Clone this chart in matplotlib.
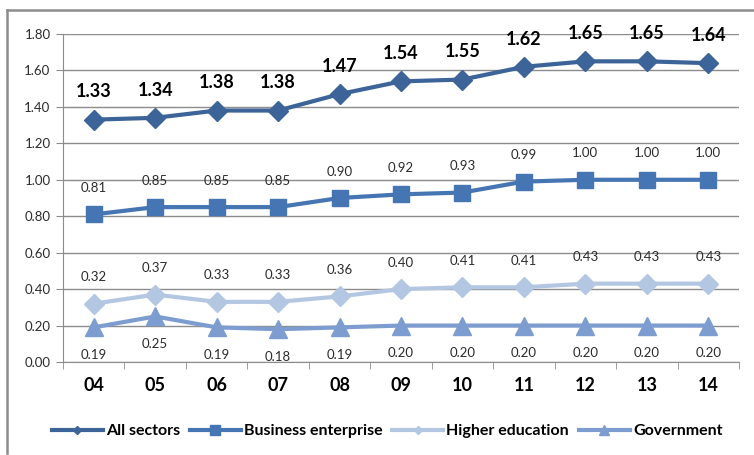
import matplotlib
matplotlib.use("Agg")
import matplotlib.pyplot as plt
from matplotlib.lines import Line2D

plt.rcParams['font.family'] = ['Lato', 'DejaVu Sans']

years = ["04", "05", "06", "07", "08", "09", "10", "11", "12", "13", "14"]
all_sectors = [1.33, 1.34, 1.38, 1.38, 1.47, 1.54, 1.55, 1.62, 1.65, 1.65, 1.64]
business = [0.81, 0.85, 0.85, 0.85, 0.90, 0.92, 0.93, 0.99, 1.00, 1.00, 1.00]
higher_ed = [0.32, 0.37, 0.33, 0.33, 0.36, 0.40, 0.41, 0.41, 0.43, 0.43, 0.43]
government = [0.19, 0.25, 0.19, 0.18, 0.19, 0.20, 0.20, 0.20, 0.20, 0.20, 0.20]
y_ticks = [0.0, 0.2, 0.4, 0.6, 0.8, 1.0, 1.2, 1.4, 1.6, 1.8]

W, H = 754, 455
fig = plt.figure(figsize=(W / 100, H / 100), dpi=100)
fig.patch.set_facecolor("white")

# chart frame: top and left edges
frame_kw = dict(transform=fig.transFigure, color="#8c8c8c", linewidth=1.8)
fig.add_artist(Line2D([7 / W, 1.0], [1 - 10 / H, 1 - 10 / H], **frame_kw))
fig.add_artist(Line2D([7 / W, 7 / W], [1 - 10 / H, 1 - 453 / H], **frame_kw))

ax = fig.add_axes([63 / W, (H - 362) / H, 676 / W, 328 / H])
x = list(range(len(years)))

c_all = "#3c6498"
c_bus = "#4675b3"
c_high = "#b4c7e2"
c_gov = "#7d9dd0"

ax.plot(x, all_sectors, color=c_all, lw=3, marker="D", ms=10.5, zorder=4)
ax.plot(x, business, color=c_bus, lw=3, marker="s", ms=12, zorder=4)
ax.plot(x, higher_ed, color=c_high, lw=3, marker="D", ms=10.5, zorder=3)
ax.plot(x, government, color=c_gov, lw=3, marker="^", ms=13, zorder=3)

for xi, v in zip(x, all_sectors):
    ax.annotate(f"{v:.2f}", (xi, v), xytext=(0, 20), textcoords="offset points",
                ha="center", va="center", fontsize=13, fontweight="bold", color="black")
for xi, v in zip(x, business):
    ax.annotate(f"{v:.2f}", (xi, v), xytext=(0, 19), textcoords="offset points",
                ha="center", va="center", fontsize=9.5, color="#2b2b2b")
for xi, v in zip(x, higher_ed):
    ax.annotate(f"{v:.2f}", (xi, v), xytext=(0, 19), textcoords="offset points",
                ha="center", va="center", fontsize=9.5, color="#2b2b2b")
for xi, v in zip(x, government):
    ax.annotate(f"{v:.2f}", (xi, v), xytext=(0, -20), textcoords="offset points",
                ha="center", va="center", fontsize=9.5, color="#2b2b2b")

ax.set_xlim(-0.5, len(years) - 0.5)
ax.set_ylim(0, 1.8)
ax.set_yticks(y_ticks)
ax.set_yticklabels([f"{t:.2f}" for t in y_ticks], fontsize=9.5, color="#2b2b2b")
ax.set_xticks(x)
ax.set_xticklabels(years, fontsize=13, fontweight="bold", color="black")
ax.set_xticks([i - 0.5 for i in range(len(years) + 1)], minor=True)
ax.tick_params(axis="x", which="major", length=0, pad=11)
ax.tick_params(axis="x", which="minor", length=5, color="#8c8c8c", direction="out")
ax.tick_params(axis="y", length=5, color="#8c8c8c", pad=4)

ax.grid(axis="y", color="#8c8c8c", lw=1)
ax.set_axisbelow(True)
for s in ["top", "right"]:
    ax.spines[s].set_visible(False)
for s in ["left", "bottom"]:
    ax.spines[s].set_color("#8c8c8c")

handles = [
    Line2D([], [], color=c_all, lw=3, marker="D", ms=4),
    Line2D([], [], color=c_bus, lw=3, marker="s", ms=7),
    Line2D([], [], color=c_high, lw=3, marker="D", ms=4),
    Line2D([], [], color=c_gov, lw=3, marker="^", ms=7),
]
labels = ["All sectors", "Business enterprise", "Higher education", "Government"]
fig.legend(handles, labels, loc="center", bbox_to_anchor=(387 / W, 1 - 431 / H),
           ncol=4, frameon=False, handlelength=3.2, handletextpad=0.2,
           columnspacing=0.6, prop={"weight": "bold", "size": 11.5})

fig.savefig("out.png", dpi=100, facecolor="white")
